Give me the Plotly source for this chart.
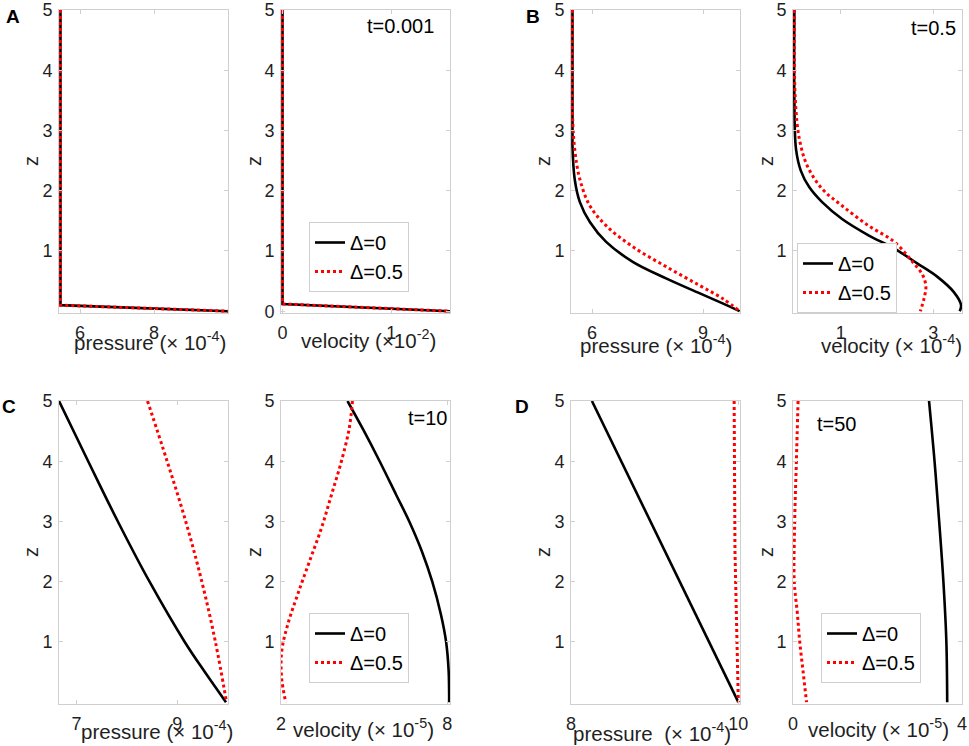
import plotly.graph_objects as go

# ---- panel A, t=0.001 ----
z_a_p = [5, 0.1, 0]
p_a = [5.47, 5.47, 10.0]
z_a_v = [5, 0.12, 0]
v_a = [0, 0, 1.54]

# ---- panel B, t=0.5 ----
z_b_p0 = [5, 2.9, 2.74, 2.19, 1.81, 1.48, 1.15, 0.82, 0.545, 0.30, 0.13, 0]
p_b0 = [5.47, 5.47, 5.47, 5.53, 5.67, 5.94, 6.38, 7.10, 8.0, 8.9, 9.53, 9.99]
z_b_p5 = [5, 3.3, 2.69, 2.19, 1.75, 1.42, 1.07, 0.74, 0.43, 0.21, 0]
p_b5 = [5.47, 5.47, 5.53, 5.67, 5.94, 6.38, 7.10, 8.0, 8.9, 9.53, 9.99]
z_b_v0 = [5, 3.51, 2.69, 2.33, 2.06, 1.81, 1.53, 1.26, 1.04, 0.79, 0.57, 0.32, 0.10, 0]
v_b0 = [0, 0, 0.035, 0.14, 0.32, 0.60, 1.03, 1.60, 2.16, 2.66, 3.09, 3.44, 3.60, 3.57]
z_b_v5 = [5, 3.51, 2.85, 2.41, 2.03, 1.75, 1.42, 1.15, 0.82, 0.60, 0.41, 0.21, 0]
v_b5 = [0, 0.02, 0.11, 0.28, 0.60, 1.03, 1.60, 2.16, 2.55, 2.77, 2.84, 2.80, 2.72]

# ---- panel C, t=10 ----
z_c_p0 = [5, 4, 3, 2, 1, 0.5, 0]
p_c0 = [6.65, 7.23, 7.82, 8.45, 9.15, 9.55, 9.97]
z_c_p5 = [5, 4, 3, 2, 1, 0]
p_c5 = [8.41, 8.80, 9.17, 9.49, 9.76, 9.98]
z_c_v0 = [5, 4.54, 4.0, 3.44, 3.0, 2.51, 2.0, 1.46, 1.0, 0.53, 0]
v_c0 = [4.40, 4.95, 5.56, 6.16, 6.63, 7.08, 7.46, 7.77, 7.96, 8.05, 8.07]
z_c_v5 = [5, 4.54, 4.0, 3.44, 2.89, 2.34, 1.80, 1.30, 0.86, 0.42, 0]
v_c5 = [4.58, 4.46, 4.18, 3.82, 3.46, 3.03, 2.61, 2.25, 2.03, 2.02, 2.17]

# ---- panel D, t=50 ----
z_d = [5, 4, 3, 2, 1, 0]
p_d0 = [8.25, 8.60, 8.95, 9.30, 9.65, 10.0]
z_d_p5 = [5, 2.5, 0]
p_d5 = [9.95, 9.96, 10.0]
v_d0 = [3.22, 3.35, 3.46, 3.56, 3.63, 3.65]
z_d_v5 = [5, 4, 3, 2, 1.5, 1, 0.5, 0]
v_d5 = [0.12, 0.08, 0.04, 0.03, 0.10, 0.16, 0.24, 0.32]

W, H = 969, 746
FONT = "Liberation Sans, Arial, Helvetica, sans-serif"
GRID = "#cfcfcf"
TXT = "#1f1f1f"

# axes boxes in pixels: (x0, x1, ytop, ybottom)
boxes = [
    (59, 228, 10, 313), (281, 450, 10, 313),
    (571, 740, 10, 313), (793, 962, 10, 313),
    (59, 228, 401, 704), (281, 450, 401, 704),
    (571, 740, 401, 704), (793, 962, 401, 704),
]
xranges = [[5.43, 10.0], [-0.014, 1.54], [5.43, 10.0], [-0.03, 3.62],
           [6.65, 10.01], [2, 8.1], [8, 10.02], [0, 4]]
xticks = [[6, 8], [0, 1], [6, 9], [1, 3], [7, 9], [2, 8], [8, 10], [0, 4]]
yticks = [[1, 2, 3, 4, 5], [0, 1, 2, 3, 4, 5], [1, 2, 3, 4, 5], [1, 2, 3, 4, 5],
          [1, 2, 3, 4, 5], [1, 2, 3, 4, 5], [1, 2, 3, 4, 5], [1, 2, 3, 4, 5]]

fig = go.Figure()


def add_pair(k, xs0, zs0, xs5, zs5, leg=None, shape="spline"):
    ax = "" if k == 1 else str(k)
    fig.add_trace(go.Scatter(x=xs0, y=zs0, mode="lines", name="Δ=0",
                             line=dict(color="black", width=2.6, shape=shape, smoothing=1.0),
                             xaxis="x" + ax, yaxis="y" + ax,
                             showlegend=leg is not None, legend=leg or "legend"))
    fig.add_trace(go.Scatter(x=xs5, y=zs5, mode="lines", name="Δ=0.5",
                             line=dict(color="red", width=3, dash="dot", shape=shape, smoothing=1.0),
                             xaxis="x" + ax, yaxis="y" + ax,
                             showlegend=leg is not None, legend=leg or "legend"))


add_pair(1, p_a, z_a_p, p_a, z_a_p, shape="linear")
add_pair(2, v_a, z_a_v, v_a, z_a_v, leg="legend", shape="linear")
add_pair(3, p_b0, z_b_p0, p_b5, z_b_p5)
add_pair(4, v_b0, z_b_v0, v_b5, z_b_v5, leg="legend2")
add_pair(5, p_c0, z_c_p0, p_c5, z_c_p5)
add_pair(6, v_c0, z_c_v0, v_c5, z_c_v5, leg="legend3")
add_pair(7, p_d0, z_d, p_d5, z_d_p5, shape="linear")
add_pair(8, v_d0, z_d, v_d5, z_d_v5, leg="legend4")

layout = dict(
    width=W, height=H, margin=dict(l=0, r=0, t=0, b=0, autoexpand=False),
    paper_bgcolor="white", plot_bgcolor="white",
    font=dict(family=FONT, size=18, color=TXT),
)

for i, (x0, x1, yt, yb) in enumerate(boxes):
    k = i + 1
    ax = "" if k == 1 else str(k)
    common = dict(showline=True, linecolor=GRID, linewidth=1, mirror="ticks",
                  ticks="inside", ticklen=4, tickcolor=GRID, showgrid=False,
                  zeroline=False, automargin=False,
                  tickfont=dict(family=FONT, size=18, color=TXT))
    layout["xaxis" + ax] = dict(common, domain=[x0 / W, x1 / W], range=xranges[i],
                                tickvals=xticks[i], anchor="y" + ax, ticklabelstandoff=3)
    layout["yaxis" + ax] = dict(common, domain=[1 - yb / H, 1 - yt / H], range=[-0.03, 5],
                                tickvals=yticks[i], anchor="x" + ax, ticklabelstandoff=2)

# legend centres taken from the reference boxes
leg_pos = {"legend": (359, 257), "legend2": (847, 278),
           "legend3": (359, 648), "legend4": (871, 648)}
for name, (lx, ly) in leg_pos.items():
    layout[name] = dict(x=lx / W, y=1 - ly / H, xanchor="center", yanchor="middle",
                        bgcolor="white", bordercolor=GRID, borderwidth=1,
                        font=dict(family=FONT, size=20, color="black"),
                        itemwidth=30, tracegroupgap=0)

fig.update_layout(**layout)

ann = []


def txt(x, y, s, size=20, bold=False, angle=0, color=TXT):
    if bold:
        s = "<b>" + s + "</b>"
    ann.append(dict(x=x / W, y=1 - y / H, xref="paper", yref="paper", text=s,
                    showarrow=False, textangle=angle, xanchor="center", yanchor="middle",
                    font=dict(family=FONT, size=size, color=color)))


# panel letters
txt(13, 16, "A", 19, bold=True, color="black")
txt(533, 16, "B", 19, bold=True, color="black")
txt(9, 406, "C", 19, bold=True, color="black")
txt(522, 406, "D", 19, bold=True, color="black")

# times
txt(400, 26, "t=0.001", color="black")
txt(933, 28, "t=0.5", color="black")
txt(427, 418, "t=10", color="black")
txt(836, 424, "t=50", color="black")

# z labels
for zx, zy in [(31, 161), (254, 161), (543, 161), (766, 161),
               (31, 552), (254, 552), (543, 552), (766, 552)]:
    txt(zx, zy, "z", angle=-90)

# x labels
xl = [(150, 341, "pressure (× 10<sup>-4</sup>)"), (368, 339, "velocity (×10<sup>-2</sup>)"),
      (656, 344, "pressure (× 10<sup>-4</sup>)"), (891, 344, "velocity (× 10<sup>-4</sup>)"),
      (157, 730, "pressure (× 10<sup>-4</sup>)"), (363, 728, "velocity (× 10<sup>-5</sup>)"),
      (652, 732, "pressure  (× 10<sup>-4</sup>)"), (878, 728, "velocity (× 10<sup>-5</sup>)")]
for x, y, s in xl:
    txt(x, y, s, 20.5)

fig.update_layout(annotations=ann)
# page body has a default 8px margin; drop it so the figure fills the window
fig.write_html("out.html", config={"displayModeBar": False},
               post_script="document.body.style.margin='0';")
